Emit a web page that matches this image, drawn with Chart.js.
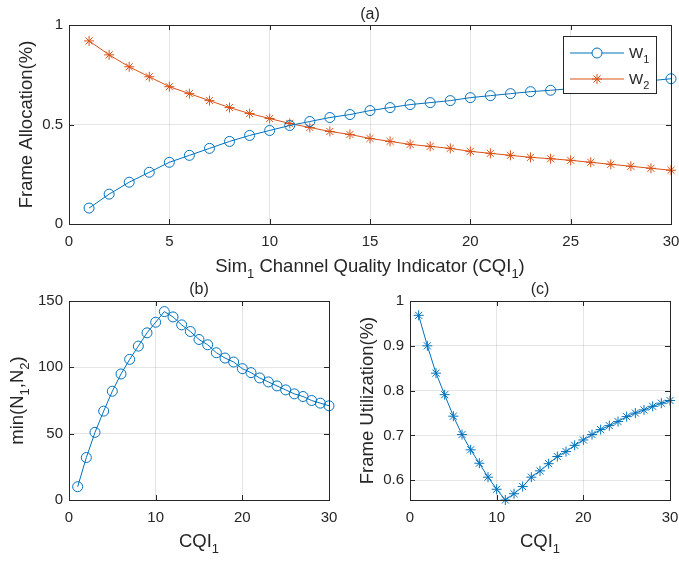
<!DOCTYPE html>
<html lang="en">
<head>
  <meta charset="UTF-8" />
  <title>Frame Allocation vs CQI</title>
  <script src="https://cdn.jsdelivr.net/npm/chart.js"></script>
  <style>
    body { margin: 0; background: #fff; }
    .panel { position: absolute; }
  </style>
</head>
<body>
  <canvas id="chartA" class="panel" width="679" height="280" style="left:0;top:0"></canvas>
  <canvas id="chartB" class="panel" width="340" height="281" style="left:0;top:280px"></canvas>
  <canvas id="chartC" class="panel" width="339" height="281" style="left:340px;top:280px"></canvas>
  <script>
    // data
    const cqi = [1, 2, 3, 4, 5, 6, 7, 8, 9, 10, 11, 12, 13, 14, 15, 16, 17, 18, 19, 20, 21, 22, 23, 24, 25, 26, 27, 28, 29, 30];
    const w1 = [0.08, 0.15, 0.21, 0.26, 0.31, 0.345, 0.38, 0.415, 0.445, 0.47, 0.495, 0.515, 0.535, 0.55, 0.57, 0.585, 0.60, 0.61, 0.62, 0.635, 0.645, 0.655, 0.665, 0.672, 0.68, 0.69, 0.70, 0.71, 0.72, 0.73];
    const w2 = [0.92, 0.85, 0.79, 0.74, 0.69, 0.655, 0.62, 0.585, 0.555, 0.53, 0.505, 0.485, 0.465, 0.45, 0.43, 0.415, 0.40, 0.39, 0.38, 0.365, 0.355, 0.345, 0.335, 0.328, 0.32, 0.31, 0.30, 0.29, 0.28, 0.27];
    const minN = [10, 32, 51, 67, 82, 95, 106, 116, 126, 134, 142, 138, 132, 127, 121, 117, 111, 107, 104, 99, 96, 92, 89, 86, 83, 80, 78, 75, 73, 71];
    const frameUtil = [0.968, 0.90, 0.839, 0.791, 0.743, 0.702, 0.668, 0.638, 0.607, 0.58, 0.556, 0.57, 0.586, 0.607, 0.621, 0.637, 0.653, 0.664, 0.678, 0.69, 0.702, 0.713, 0.722, 0.731, 0.742, 0.75, 0.757, 0.765, 0.772, 0.778];

    const xTicksA = [0, 5, 10, 15, 20, 25, 30];
    const yTicksA = [0, 0.5, 1];
    const xTicksBC = [0, 10, 20, 30];
    const yTicksB = [0, 50, 100, 150];
    const yTicksC = [0.6, 0.7, 0.8, 0.9, 1];

    const FONT = "'Liberation Sans', Arial, sans-serif";
    const INK = '#262626';
    const BLUE = '#0072BD';
    const ORANGE = '#D95319';
    const GRID = 'rgba(38,38,38,0.12)';

    const pts = vals => cqi.map((c, i) => ({ x: c, y: vals[i] }));

    // text with "_1" style subscripts, centered on (x, y) baseline
    function richText(ctx, str, x, y, size, rotate, align) {
      const parts = [];
      for (let i = 0; i < str.length; i++) {
        if (str[i] === '_') { parts.push({ t: str[i + 1], sub: true }); i++; }
        else if (parts.length && !parts[parts.length - 1].sub) parts[parts.length - 1].t += str[i];
        else parts.push({ t: str[i], sub: false });
      }
      const sub = Math.round(size * 0.72);
      ctx.save();
      ctx.translate(x, y);
      if (rotate) ctx.rotate(-Math.PI / 2);
      ctx.fillStyle = INK;
      ctx.textBaseline = 'alphabetic';
      ctx.textAlign = 'left';
      let w = 0;
      parts.forEach(p => { ctx.font = (p.sub ? sub : size) + 'px ' + FONT; p.w = ctx.measureText(p.t).width; w += p.w; });
      let cx = align === 'left' ? 0 : -w / 2;
      parts.forEach(p => {
        ctx.font = (p.sub ? sub : size) + 'px ' + FONT;
        ctx.fillText(p.t, cx, p.sub ? size * 0.32 : 0);
        cx += p.w;
      });
      ctx.restore();
    }

    // MATLAB style box, inward ticks and labels
    const framePlugin = {
      id: 'frame',
      afterDatasetsDraw(chart, args, opts) {
        const { ctx, chartArea: a, scales } = chart;
        ctx.save();
        ctx.strokeStyle = INK;
        ctx.lineWidth = 1;
        ctx.beginPath();
        scales.x.ticks.forEach(t => {
          const px = Math.round(scales.x.getPixelForValue(t.value)) + 0.5;
          ctx.moveTo(px, a.bottom); ctx.lineTo(px, a.bottom - 5);
          ctx.moveTo(px, a.top); ctx.lineTo(px, a.top + 5);
        });
        scales.y.ticks.forEach(t => {
          const py = Math.round(scales.y.getPixelForValue(t.value)) + 0.5;
          ctx.moveTo(a.left, py); ctx.lineTo(a.left + 5, py);
          ctx.moveTo(a.right, py); ctx.lineTo(a.right - 5, py);
        });
        ctx.stroke();
        ctx.strokeRect(Math.round(a.left) + 0.5, Math.round(a.top) + 0.5, Math.round(a.right - a.left), Math.round(a.bottom - a.top));
        ctx.restore();
      },
      afterDraw(chart, args, opts) {
        const { ctx, chartArea: a } = chart;
        const cx = (a.left + a.right) / 2, cy = (a.top + a.bottom) / 2;
        richText(ctx, opts.title, cx, opts.titleY, 16, false);
        richText(ctx, opts.xLabel, cx, opts.xLabelY, 18.5, false);
        richText(ctx, opts.yLabel, opts.yLabelX, cy, 18.5, true);
      }
    };

    // legend for panel (a), drawn over the data like MATLAB does
    const legendPlugin = {
      id: 'boxLegend',
      afterDatasetsDraw(chart, args, opts) {
        if (!opts.items) return;
        const ctx = chart.ctx;
        const b = opts.box;
        ctx.save();
        ctx.fillStyle = '#fff';
        ctx.fillRect(b.x, b.y, b.w, b.h);
        ctx.strokeStyle = INK;
        ctx.lineWidth = 1;
        ctx.strokeRect(b.x + 0.5, b.y + 0.5, b.w, b.h);
        opts.items.forEach((it, i) => {
          const y = b.y + 17 + i * 26;
          ctx.strokeStyle = it.color;
          ctx.lineWidth = 1;
          ctx.beginPath(); ctx.moveTo(b.x + 7, y); ctx.lineTo(b.x + 61, y); ctx.stroke();
          Chart.helpers.drawPoint(ctx, { pointStyle: it.style, radius: 5, borderWidth: 1 }, b.x + 34, y);
          richText(ctx, it.label, b.x + 66, y + 5, 15, false, 'left');
        });
        ctx.restore();
      }
    };

    function scalesFor(xTicks, yTicks, yMin, yMax, yWidth, xHeight) {
      return {
        x: {
          type: 'linear', min: 0, max: 30,
          afterBuildTicks: s => { s.ticks = xTicks.map(v => ({ value: v })); },
          afterFit: s => { s.height = xHeight; s.paddingLeft = 0; s.paddingRight = 0; },
          grid: { color: GRID, drawTicks: false },
          border: { display: false },
          ticks: { padding: 9, color: INK, font: { family: FONT, size: 15 }, maxRotation: 0, callback: v => String(v) }
        },
        y: {
          type: 'linear', min: yMin, max: yMax,
          afterBuildTicks: s => { s.ticks = yTicks.map(v => ({ value: v })); },
          afterFit: s => { s.width = yWidth; s.paddingTop = 0; s.paddingBottom = 0; },
          grid: { color: GRID, drawTicks: false },
          border: { display: false },
          ticks: { padding: 6, color: INK, font: { family: FONT, size: 15 }, callback: v => String(v) }
        }
      };
    }

    function lineSet(label, vals, color, style) {
      return {
        label, data: pts(vals), borderColor: color, borderWidth: 1,
        pointStyle: style, pointRadius: 5, pointHoverRadius: 5,
        pointBorderColor: color, pointBackgroundColor: 'rgba(0,0,0,0)', pointBorderWidth: 1,
        tension: 0, clip: false
      };
    }

    const common = { responsive: false, animation: false, devicePixelRatio: 1, events: [] };

    new Chart(document.getElementById('chartA'), {
      type: 'line',
      data: { datasets: [lineSet('W_1', w1, BLUE, 'circle'), lineSet('W_2', w2, ORANGE, 'star')] },
      options: {
        ...common,
        layout: { autoPadding: false, padding: { left: 0, right: 8, top: 25, bottom: 0 } },
        scales: scalesFor(xTicksA, yTicksA, 0, 1, 69, 56),
        plugins: {
          legend: { display: false }, tooltip: { enabled: false },
          frame: { title: '(a)', titleY: 19, xLabel: 'Sim_1 Channel Quality Indicator (CQI_1)', xLabelY: 272, yLabel: 'Frame Allocation(%)', yLabelX: 32 },
          boxLegend: {
            box: { x: 563, y: 36, w: 93, h: 57 },
            items: [{ label: 'W_1', color: BLUE, style: 'circle' }, { label: 'W_2', color: ORANGE, style: 'star' }]
          }
        }
      },
      plugins: [framePlugin, legendPlugin]
    });

    new Chart(document.getElementById('chartB'), {
      type: 'line',
      data: { datasets: [lineSet('min(N1,N2)', minN, BLUE, 'circle')] },
      options: {
        ...common,
        layout: { autoPadding: false, padding: { left: 0, right: 11, top: 21, bottom: 0 } },
        scales: scalesFor(xTicksBC, yTicksB, 0, 150, 69, 61),
        plugins: {
          legend: { display: false }, tooltip: { enabled: false },
          frame: { title: '(b)', titleY: 14, xLabel: 'CQI_1', xLabelY: 267, yLabel: 'min(N_1,N_2)', yLabelX: 23 }
        }
      },
      plugins: [framePlugin]
    });

    new Chart(document.getElementById('chartC'), {
      type: 'line',
      data: { datasets: [lineSet('Frame Utilization', frameUtil, BLUE, 'star')] },
      options: {
        ...common,
        layout: { autoPadding: false, padding: { left: 0, right: 9, top: 21, bottom: 0 } },
        scales: scalesFor(xTicksBC, yTicksC, 0.556, 1, 70, 61),
        plugins: {
          legend: { display: false }, tooltip: { enabled: false },
          frame: { title: '(c)', titleY: 14, xLabel: 'CQI_1', xLabelY: 267, yLabel: 'Frame Utilization(%)', yLabelX: 33 }
        }
      },
      plugins: [framePlugin]
    });
  </script>
</body>
</html>
